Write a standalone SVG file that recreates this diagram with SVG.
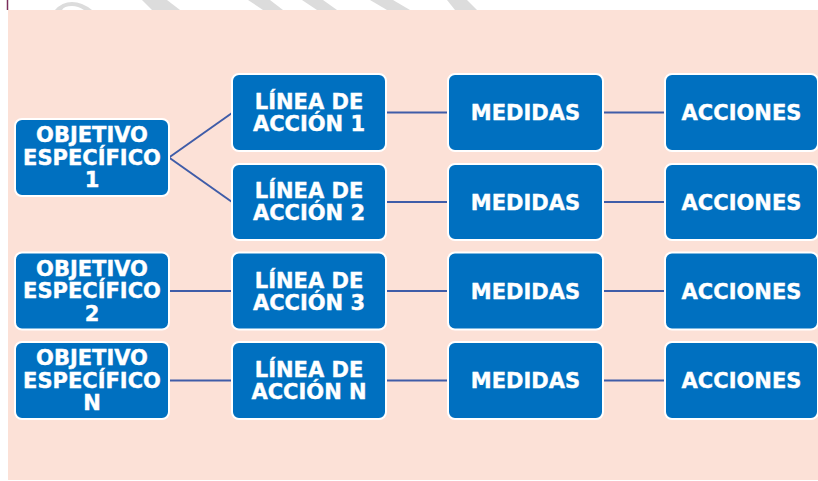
<svg xmlns="http://www.w3.org/2000/svg" width="818" height="481" viewBox="0 0 818 481">
<style>
.box{fill:#0070C0;stroke:#FFFFFF;stroke-width:2}
.t{font-family:"DejaVu Sans","Verdana",sans-serif;font-weight:bold;font-size:21px;fill:#FFFFFF;stroke:#FFFFFF;stroke-width:0.4;text-anchor:middle}
.c{stroke:#3F5CA8;stroke-width:2;fill:none}
.wm{fill:#DCDCDC}
</style>
<rect x="0" y="0" width="818" height="481" fill="#FFFFFF"/>
<g id="watermark">
<path class="wm" d="M55,10 Q62,2 72,2 Q82,2 92,10 L84,10 Q78,6 72,6 Q64,6 62,10 Z"/>
<polygon class="wm" points="142,0 167,0 180,10 152,10"/>
<polygon class="wm" points="248,0 270,0 283,10 263,10"/>
<polygon class="wm" points="302,0 323,0 337,10 317,10"/>
<polygon class="wm" points="370,0 393,0 410,10 387,10"/>
<polygon class="wm" points="447,0 467,0 477,10 455,10"/>
</g>
<line x1="7.5" y1="0" x2="7.5" y2="10" stroke="#7B2D5B" stroke-width="1.5"/>
<rect x="8" y="10" width="810" height="470" fill="#FCE1D7"/>
<g id="connectors">
<line class="c" x1="169" y1="157.5" x2="232" y2="113"/>
<line class="c" x1="169" y1="157.5" x2="232" y2="202"/>
<line class="c" x1="386" y1="112.5" x2="448" y2="112.5"/>
<line class="c" x1="603" y1="112.5" x2="665" y2="112.5"/>
<line class="c" x1="386" y1="202" x2="448" y2="202"/>
<line class="c" x1="603" y1="202" x2="665" y2="202"/>
<line class="c" x1="169" y1="291" x2="232" y2="291"/>
<line class="c" x1="386" y1="291" x2="448" y2="291"/>
<line class="c" x1="603" y1="291" x2="665" y2="291"/>
<line class="c" x1="169" y1="380.5" x2="232" y2="380.5"/>
<line class="c" x1="386" y1="380.5" x2="448" y2="380.5"/>
<line class="c" x1="603" y1="380.5" x2="665" y2="380.5"/>
</g>
<g id="obj1"><rect class="box" x="15" y="119" width="154" height="77" rx="7"/>
<text class="t" x="92" y="142">OBJETIVO</text><text class="t" x="92" y="164.5">ESPECÍFICO</text><text class="t" x="92" y="187">1</text></g>
<g id="obj2"><rect class="box" x="15" y="252.5" width="154" height="77" rx="7"/>
<text class="t" x="92" y="276">OBJETIVO</text><text class="t" x="92" y="298">ESPECÍFICO</text><text class="t" x="92" y="320.5">2</text></g>
<g id="objN"><rect class="box" x="15" y="342" width="154" height="77" rx="7"/>
<text class="t" x="92" y="365">OBJETIVO</text><text class="t" x="92" y="387.5">ESPECÍFICO</text><text class="t" x="92" y="410">N</text></g>
<g id="linea1"><rect class="box" x="232" y="74" width="154" height="77" rx="7"/>
<text class="t" x="309" y="109">LÍNEA DE</text><text class="t" x="309" y="131">ACCIÓN 1</text></g>
<g id="linea2"><rect class="box" x="232" y="164" width="154" height="76" rx="7"/>
<text class="t" x="309" y="198">LÍNEA DE</text><text class="t" x="309" y="220">ACCIÓN 2</text></g>
<g id="linea3"><rect class="box" x="232" y="252.5" width="154" height="77" rx="7"/>
<text class="t" x="309" y="287.5">LÍNEA DE</text><text class="t" x="309" y="309.5">ACCIÓN 3</text></g>
<g id="lineaN"><rect class="box" x="232" y="342" width="154" height="77" rx="7"/>
<text class="t" x="309" y="376.5">LÍNEA DE</text><text class="t" x="309" y="398.5">ACCIÓN N</text></g>
<g id="medidas1"><rect class="box" x="448" y="74" width="155" height="77" rx="7"/><text class="t" x="525.5" y="120">MEDIDAS</text></g>
<g id="medidas2"><rect class="box" x="448" y="164" width="155" height="76" rx="7"/><text class="t" x="525.5" y="209.5">MEDIDAS</text></g>
<g id="medidas3"><rect class="box" x="448" y="252.5" width="155" height="77" rx="7"/><text class="t" x="525.5" y="298.5">MEDIDAS</text></g>
<g id="medidas4"><rect class="box" x="448" y="342" width="155" height="77" rx="7"/><text class="t" x="525.5" y="388">MEDIDAS</text></g>
<g id="acciones1"><rect class="box" x="665" y="74" width="153" height="77" rx="7"/><text class="t" x="741.5" y="120">ACCIONES</text></g>
<g id="acciones2"><rect class="box" x="665" y="164" width="153" height="76" rx="7"/><text class="t" x="741.5" y="209.5">ACCIONES</text></g>
<g id="acciones3"><rect class="box" x="665" y="252.5" width="153" height="77" rx="7"/><text class="t" x="741.5" y="298.5">ACCIONES</text></g>
<g id="acciones4"><rect class="box" x="665" y="342" width="153" height="77" rx="7"/><text class="t" x="741.5" y="388">ACCIONES</text></g>
</svg>
